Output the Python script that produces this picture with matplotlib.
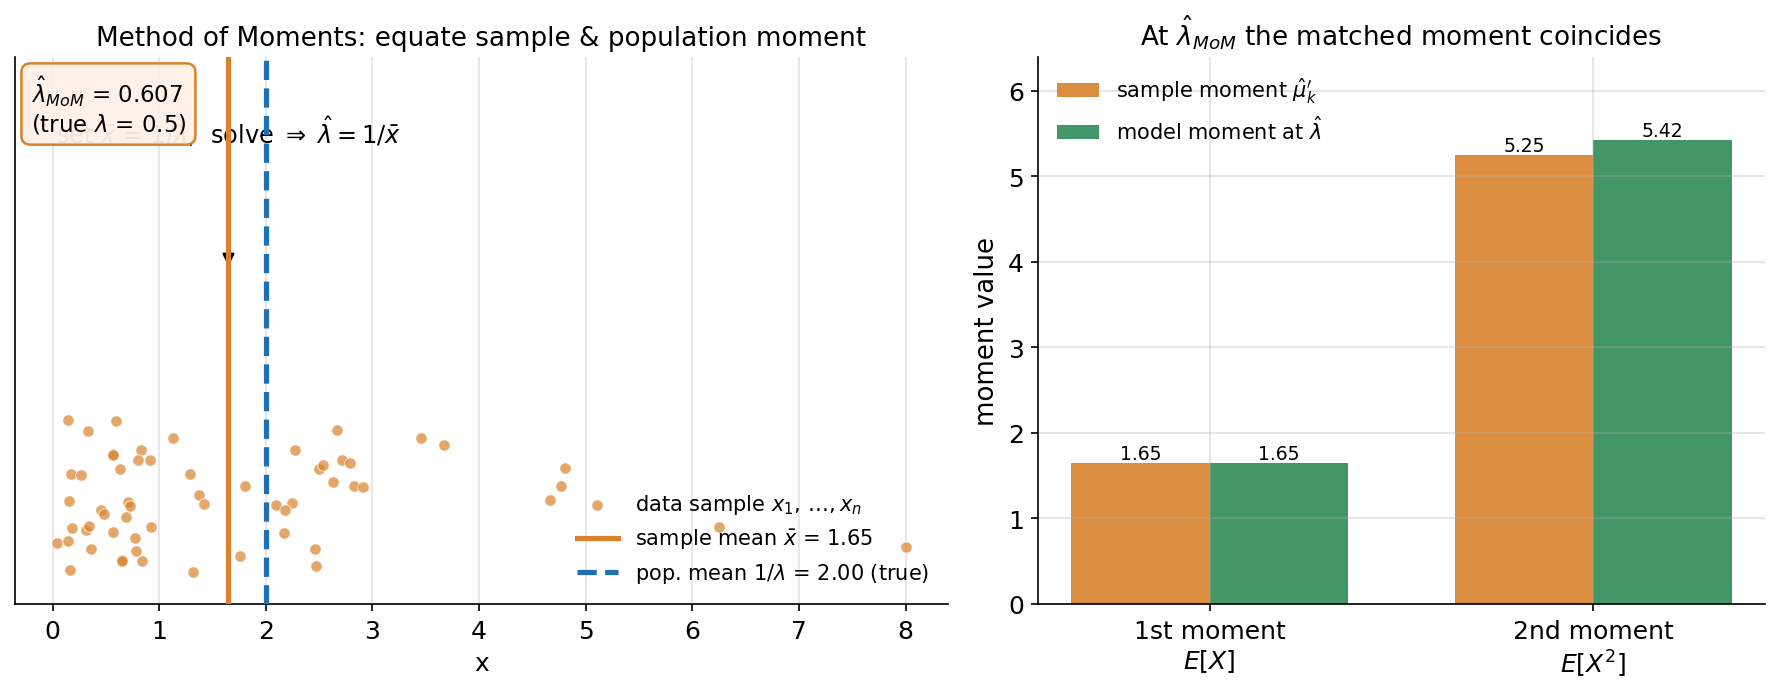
import numpy as np
import matplotlib
matplotlib.use("Agg")
import matplotlib.pyplot as plt

# ---------------- data ----------------
sample_x = [0.146, 0.334, 0.596, 1.131, 0.568, 0.570, 0.830, 0.802, 0.915, 0.634,
            0.172, 0.268, 1.290, 1.374, 1.421, 0.156, 0.709, 0.727, 0.456, 0.487,
            0.690, 0.184, 0.315, 0.343, 0.568, 0.924, 0.774, 0.043, 0.146, 0.362,
            0.784, 0.647, 0.653, 0.840, 0.165, 1.318, 1.802, 1.755, 2.668, 2.274,
            2.714, 2.789, 2.499, 2.536, 2.630, 2.827, 2.915, 2.093, 2.246, 2.177,
            2.168, 2.461, 2.471, 3.452, 3.671, 4.810, 4.773, 4.669, 6.252, 8.000]
sample_jitter = [0.336, 0.316, 0.334, 0.303, 0.274, 0.273, 0.281, 0.263, 0.264, 0.246,
                 0.237, 0.235, 0.237, 0.199, 0.182, 0.188, 0.187, 0.179, 0.172, 0.164,
                 0.159, 0.139, 0.135, 0.142, 0.131, 0.141, 0.120, 0.111, 0.115, 0.100,
                 0.097, 0.080, 0.079, 0.079, 0.062, 0.058, 0.215, 0.087, 0.318, 0.281,
                 0.263, 0.257, 0.246, 0.255, 0.223, 0.216, 0.214, 0.181, 0.184, 0.171,
                 0.130, 0.100, 0.069, 0.303, 0.290, 0.248, 0.216, 0.190, 0.140, 0.104]
true_lambda = 0.5
lambda_hat = 0.607
pop_mean = 1 / true_lambda

moment_labels = ["1st moment\n$E[X]$", "2nd moment\n$E[X^2]$"]
sample_moments = [1.65, 5.25]
model_moments = [1.65, 5.42]

ORANGE = "#D9822B"
GREEN = "#2E8B57"
BLUE = "#1F70B0"

plt.rcParams["font.family"] = ["DejaVu Sans"]

fig = plt.figure(figsize=(11.8, 4.6333), dpi=150)
ax1 = fig.add_axes([0.0083, 0.1295, 0.5273, 0.787])
ax2 = fig.add_axes([0.5867, 0.1295, 0.4102, 0.787])

# ---------------- left panel ----------------
x = np.array(sample_x)
xbar = x.mean()
ax1.scatter(x, sample_jitter, s=30, color=ORANGE, alpha=0.7, edgecolor="white",
            linewidth=0.5, label=r"data sample $x_1,\,\ldots,x_n$", zorder=2)
ax1.annotate(r"set $\bar{x}$ = $1/\lambda$,  solve $\Rightarrow$ $\hat{\lambda}=1/\bar{x}$",
             xy=(xbar, 0.61), xytext=(xbar, 0.865), ha="center", va="center",
             fontsize=11.5, zorder=2.5,
             arrowprops=dict(arrowstyle="-|>", color="black", lw=1.2))
ax1.axvline(xbar, color=ORANGE, lw=2.5, zorder=3,
            label=rf"sample mean $\bar{{x}}$ = {xbar:.2f}")
ax1.axvline(pop_mean, color=BLUE, lw=2.5, ls="--", zorder=3,
            label=rf"pop. mean $1/\lambda$ = {pop_mean:.2f} (true)")
ax1.text(0.017, 0.97, rf"$\hat{{\lambda}}_{{MoM}}$ = {lambda_hat:.3f}" + "\n" +
         rf"(true $\lambda$ = {true_lambda})",
         transform=ax1.transAxes, ha="left", va="top", fontsize=11, zorder=6,
         bbox=dict(boxstyle="round,pad=0.4", fc=(0.992, 0.945, 0.905, 0.94),
                   ec=ORANGE, lw=1.2))
ax1.set_ylim(0, 1)
ax1.set_yticks([])
ax1.set_xticks(range(0, 9))
ax1.set_xlabel("x", fontsize=12)
ax1.set_title("Method of Moments: equate sample & population moment", fontsize=12.6)
ax1.grid(axis="x", color="#b0b0b0", alpha=0.3, lw=1.0)
ax1.spines["top"].set_visible(False)
ax1.spines["right"].set_visible(False)
ax1.tick_params(labelsize=12)
ax1.legend(loc="lower right", frameon=False, fontsize=10)

# ---------------- right panel ----------------
pos = np.arange(len(moment_labels))
w = 0.36
b1 = ax2.bar(pos - w / 2, sample_moments, w, color=ORANGE, alpha=0.9,
             label=r"sample moment $\hat{\mu}^{\prime}_{k}$")
b2 = ax2.bar(pos + w / 2, model_moments, w, color=GREEN, alpha=0.9,
             label=r"model moment at $\hat{\lambda}$")
for bars, vals in ((b1, sample_moments), (b2, model_moments)):
    for r, v in zip(bars, vals):
        ax2.text(r.get_x() + r.get_width() / 2, v, f"{v:.2f}", ha="center",
                 va="bottom", fontsize=9)
ax2.set_xticks(pos)
ax2.set_xticklabels(moment_labels)
ax2.set_ylim(0, max(model_moments) * 1.18)
ax2.set_ylabel("moment value", fontsize=12.5)
ax2.set_title(r"At $\hat{\lambda}_{MoM}$ the matched moment coincides", fontsize=12.6)
ax2.grid(color="#b0b0b0", alpha=0.3, lw=1.0)
ax2.spines["top"].set_visible(False)
ax2.spines["right"].set_visible(False)
ax2.tick_params(labelsize=12)
ax2.legend(loc="upper left", frameon=False, fontsize=10)

fig.savefig("out.png", dpi=150)
